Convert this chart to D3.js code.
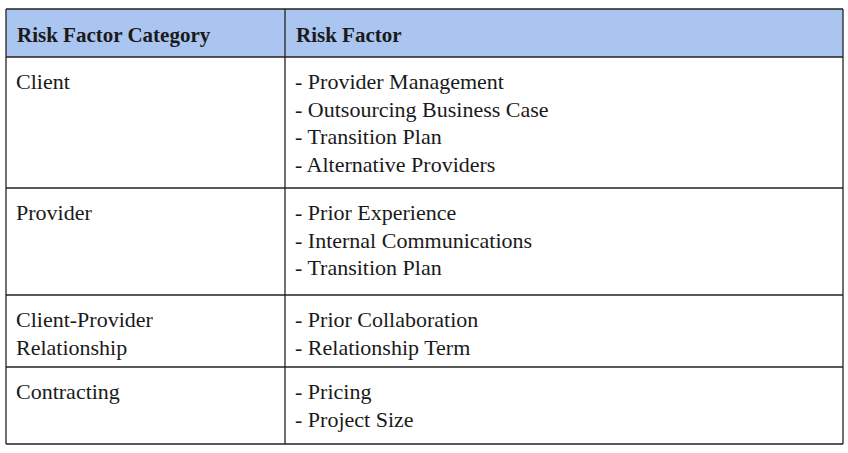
<!DOCTYPE html><html><head><meta charset="utf-8"><script src="https://cdn.jsdelivr.net/npm/d3@7"></script>
<style>body{margin:0;background:#fff}</style></head><body><svg id="c" width="848" height="453"></svg><script>
const headers=["Risk Factor Category","Risk Factor"];
const categories=[["Client"],["Provider"],["Client-Provider","Relationship"],["Contracting"]];
const factors=[["- Provider Management","- Outsourcing Business Case","- Transition Plan","- Alternative Providers"],["- Prior Experience","- Internal Communications","- Transition Plan"],["- Prior Collaboration","- Relationship Term"],["- Pricing","- Project Size"]];
const rowEdges=[9,57,188,295,367,444];
const colEdges=[6,285,843];
const svg=d3.select("#c");
const font="'Liberation Serif', 'DejaVu Serif', serif";
svg.append("rect").attr("x",colEdges[0]).attr("y",rowEdges[0]).attr("width",colEdges[2]-colEdges[0]).attr("height",rowEdges[1]-rowEdges[0]).attr("fill","#aac5f0");
headers.forEach((h,i)=>svg.append("text").attr("x",colEdges[i]+11).attr("y",rowEdges[0]+33).attr("font-family",font).attr("font-weight","bold").attr("font-size",21).attr("fill","#1a1a1a").text(h));
categories.forEach((cat,r)=>{
  const top=rowEdges[r+1];
  [cat,factors[r]].forEach((lines,ci)=>{
    svg.append("g").selectAll("text").data(lines).join("text").attr("x",colEdges[ci]+10).attr("y",(d,k)=>top+32+k*27.5).attr("font-family",font).attr("font-size",22).attr("fill","#1a1a1a").text(d=>d);
  });
});
rowEdges.forEach(y=>svg.append("line").attr("x1",colEdges[0]).attr("x2",colEdges[2]).attr("y1",y).attr("y2",y).attr("stroke","#222").attr("stroke-width",1.3));
colEdges.forEach(x=>svg.append("line").attr("x1",x).attr("x2",x).attr("y1",rowEdges[0]).attr("y2",rowEdges[5]).attr("stroke","#222").attr("stroke-width",1.3));
</script></body></html>
